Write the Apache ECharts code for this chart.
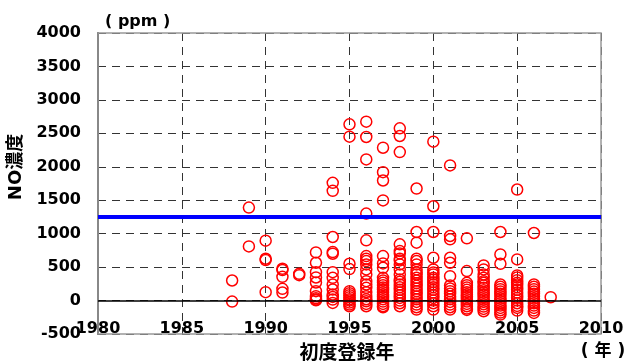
<!DOCTYPE html>
<html>
<head>
<meta charset="utf-8">
<script src="https://cdn.jsdelivr.net/npm/echarts@6/dist/echarts.min.js"></script>
<style>html,body{margin:0;padding:0;background:#fff}#c{width:633px;height:363px}</style>
</head>
<body>
<div id="c"></div>
<script>
// Registration years (x) and NO concentrations (ppm) per year
const years = [1988, 1989, 1990, 1991, 1992, 1993, 1994, 1995, 1996, 1997, 1998, 1999, 2000, 2001, 2002, 2003, 2004, 2005, 2006, 2007];
const no1988 = [300, -15];
const no1989 = [1390, 810];
const no1990 = [895, 625, 605, 125];
const no1991 = [475, 455, 355, 175, 120];
const no1992 = [400, 380];
const no1993 = [720, 565, 425, 345, 270, 140, 65, 35, 15, 5];
const no1994 = [1760, 1640, 950, 725, 700, 425, 340, 240, 165, 90, 55, 15, -35];
const no1995 = [2635, 2450, 550, 470, 140, 110, 80, 50, 20, 0, -30, -60, -85];
const no1996 = [2675, 2445, 2110, 1300, 900, 665, 625, 590, 540, 465, 390, 290, 240, 190, 125, 65, 20, -10, -50, -85];
const no1997 = [2285, 1920, 1795, 1497, 665, 555, 490, 340, 300, 265, 230, 195, 160, 125, 90, 55, 20, -15, -50, -85, -100];
const no1998 = [2575, 2460, 2220, 840, 740, 705, 625, 600, 540, 465, 390, 315, 280, 240, 200, 160, 120, 80, 40, 0, -40, -85];
const no1999 = [1675, 1025, 865, 625, 590, 540, 465, 420, 390, 340, 300, 260, 220, 180, 140, 100, 60, 20, -20, -60, -100, -135];
const no2000 = [2375, 1410, 1025, 640, 465, 420, 390, 340, 315, 275, 240, 200, 160, 120, 80, 40, 0, -40, -85, -135];
const no2001 = [2020, 965, 915, 640, 565, 365, 225, 180, 140, 100, 60, 20, -20, -60, -100, -135];
const no2002 = [930, 440, 265, 230, 195, 160, 125, 90, 55, 20, -15, -50, -85, -120, -140];
const no2003 = [525, 465, 390, 340, 290, 265, 225, 190, 155, 120, 85, 50, 15, -20, -55, -90, -125, -160];
const no2004 = [1025, 690, 550, 240, 205, 170, 135, 100, 65, 30, -5, -40, -75, -110, -145, -180, -210];
const no2005 = [1660, 615, 375, 345, 305, 265, 240, 200, 160, 120, 80, 40, 0, -40, -80, -110, -150];
const no2006 = [1010, 240, 205, 170, 135, 100, 65, 30, -5, -40, -75, -110, -150, -185];
const no2007 = [50];
const valuesByYear = [no1988, no1989, no1990, no1991, no1992, no1993, no1994, no1995, no1996, no1997, no1998, no1999, no2000, no2001, no2002, no2003, no2004, no2005, no2006, no2007];
const referenceLevel = 1250;
const yTicks = [-500, 0, 500, 1000, 1500, 2000, 2500, 3000, 3500, 4000];
const xTicks = [1980, 1985, 1990, 1995, 2000, 2005, 2010];

const points = [];
years.forEach((yr, i) => valuesByYear[i].forEach(v => points.push([yr, v])));

const FONT = '"DejaVu Sans", "Noto Sans CJK JP", sans-serif';
const chart = echarts.init(document.getElementById('c'), null, {renderer: 'canvas'});
chart.setOption({
  animation: false,
  backgroundColor: '#fff',
  grid: {left: 98, right: 32, top: 33, bottom: 29, show: true, borderColor: '#999', borderWidth: 1.5, backgroundColor: 'rgba(0,0,0,0)', containLabel: false, z: 3},
  xAxis: {
    type: 'value', min: xTicks[0], max: xTicks[xTicks.length - 1], interval: 5,
    offset: -13,
    axisLine: {show: false}, axisTick: {show: false},
    axisLabel: {margin: 0, color: '#000', fontFamily: FONT, fontWeight: 'bold', fontSize: 16, formatter: v => String(v)},
    splitLine: {show: true, lineStyle: {color: '#333', type: [8, 6], width: 1}}
  },
  yAxis: {
    type: 'value', min: yTicks[0], max: yTicks[yTicks.length - 1], interval: 500,
    axisLine: {show: true, onZero: false, lineStyle: {color: '#555', width: 2}},
    axisTick: {show: false},
    axisLabel: {margin: 17, color: '#000', fontFamily: FONT, fontWeight: 'bold', fontSize: 16, formatter: v => String(v)},
    splitLine: {show: true, lineStyle: {color: '#333', type: [8, 6], width: 1}}
  },
  graphic: [
    {type: 'text', left: 105, top: 14, style: {text: '( ppm )', font: 'bold 16px ' + FONT, fill: '#000'}},
    {type: 'text', x: 16, y: 167, rotation: Math.PI / 2, style: {text: 'NO濃度', font: 'bold 18px ' + FONT, fill: '#000', align: 'center', verticalAlign: 'middle'}},
    {type: 'text', x: 347, y: 352, style: {text: '初度登録年', font: 'bold 19px "Noto Sans CJK JP", sans-serif', fill: '#000', align: 'center', verticalAlign: 'middle'}},
    {type: 'text', x: 603, y: 352, style: {text: '( 年 )', font: 'bold 17px ' + FONT, fill: '#000', align: 'center', verticalAlign: 'middle'}}
  ],
  series: [
    {
      type: 'scatter', data: [], silent: true, z: 1,
      markLine: {
        silent: true, symbol: 'none', label: {show: false}, animation: false,
        data: [
          {yAxis: 0, lineStyle: {color: '#000', width: 1.5, type: 'solid'}},
          {yAxis: referenceLevel, lineStyle: {color: '#0000ff', width: 4, type: 'solid'}}
        ]
      }
    },
    {
      type: 'scatter', data: points, symbol: 'circle', symbolSize: 11, z: 3,
      itemStyle: {color: 'rgba(0,0,0,0)', borderColor: '#ff0000', borderWidth: 1.5, opacity: 1}
    }
  ]
});
</script>
</body>
</html>
